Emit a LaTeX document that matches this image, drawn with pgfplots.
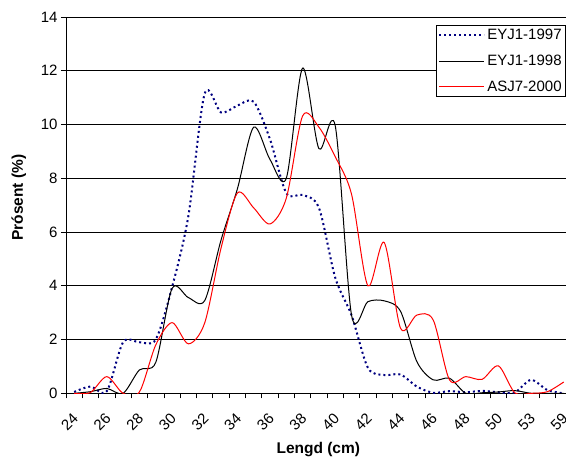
\documentclass[border=0pt]{standalone}
\usepackage{fontspec}
\setmainfont{Liberation Sans}
\usepackage{pgfplots}
\pgfplotsset{compat=1.18}
\definecolor{navy}{RGB}{0,0,128}
\begin{document}
\begin{tikzpicture}
\path[use as bounding box] (0,0) rectangle (566bp,459bp);
\begin{axis}[
  at={(66bp,65.7bp)}, anchor=south west,
  scale only axis, width=500bp, height=376.3bp,
  xmin=-0.5, xmax=30.14, ymin=0, ymax=14,
  axis x line=bottom, axis y line=left,
  axis line style={-, black, line width=1bp},
  ytick={0,2,...,14},
  ymajorgrids, grid style={black, line width=0.7bp},
  tick align=outside, major tick length=5bp,
  tick style={black, line width=0.8bp},
  xtick={-0.5,0.5,...,29.5}, xticklabels={},
  extra x ticks={0,2,...,30},
  extra x tick labels={24,26,28,30,32,34,36,38,40,42,44,46,48,50,53,59},
  extra x tick style={major tick length=0pt, grid=none},
  xticklabel style={rotate=45, anchor=east, inner sep=1bp, xshift=-13.8bp, yshift=-16.8bp},
  ticklabel style={font=\fontsize{15bp}{18bp}\selectfont},
  /pgf/number format/assume math mode=true,
  xlabel={\textbf{Lengd (cm)}},
  ylabel={\textbf{Prósent (\%)}},
  label style={font=\fontsize{15.5bp}{18bp}\selectfont},
  xlabel style={at={(axis description cs:0.5046,-0.1507)}, anchor=center},
  ylabel style={at={(axis description cs:-0.0944,0.52)}, anchor=center},
  legend style={at={(1,1)}, anchor=north east, yshift=-8bp,
    draw=black, fill=white, line width=0.8bp,
    font=\fontsize{15bp}{18bp}\selectfont,
    row sep=9.7bp, inner sep=2bp},
  legend cell align=left,
  legend image code/.code={\draw[#1] (0bp,0bp) -- (45bp,0bp);},
]
\addplot[navy, line width=2bp, dash pattern=on 2bp off 3bp, smooth, tension=0.5] coordinates {
(0,0.05) (1,0.25) (2,0.08) (3,1.9) (4,1.9) (5,2.0) (6,3.95) (7,6.6) (8,11.15) (9,10.45)
(10,10.7) (11,10.85) (12,9.45) (13,7.45) (14,7.38) (15,6.9) (16,4.3) (17,2.9) (18,0.95) (19,0.68)
(20,0.7) (21,0.25) (22,0.02) (23,0.08) (24,0.04) (25,0.09) (26,0.04) (27,0.03) (28,0.5) (29,0.12) (30,0)
};
\addlegendentry{EYJ1-1997}
\addplot[black, line width=1bp, smooth, tension=0.5] coordinates {
(0,0) (1,0.06) (2,0.18) (3,0) (4,0.87) (5,1.15) (6,3.9) (7,3.56) (8,3.45) (9,5.7)
(10,7.6) (11,9.9) (12,8.7) (13,8.0) (14,12.1) (15,9.1) (16,9.95) (17,2.9) (18,3.41) (19,3.44)
(20,3.05) (21,1.18) (22,0.5) (23,0.56) (24,0) (25,0.02) (26,0.05) (27,0.1) (28,0) (29,0) (30,0)
};
\addlegendentry{EYJ1-1998}
\addplot[red, line width=1bp, smooth, tension=0.5] coordinates {
(0,0) (1,0.03) (2,0.62) (3,0) (4,0.05) (5,1.8) (6,2.63) (7,1.84) (8,2.62) (9,5.4)
(10,7.45) (11,6.9) (12,6.3) (13,7.26) (14,10.32) (15,9.9) (16,8.8) (17,7.4) (18,4.0) (19,5.61)
(20,2.42) (21,2.91) (22,2.73) (23,0.5) (24,0.62) (25,0.52) (26,1.02) (27,0.02) (28,0) (29,0.06) (30,0.42)
};
\addlegendentry{ASJ7-2000}
\end{axis}
\end{tikzpicture}
\end{document}
